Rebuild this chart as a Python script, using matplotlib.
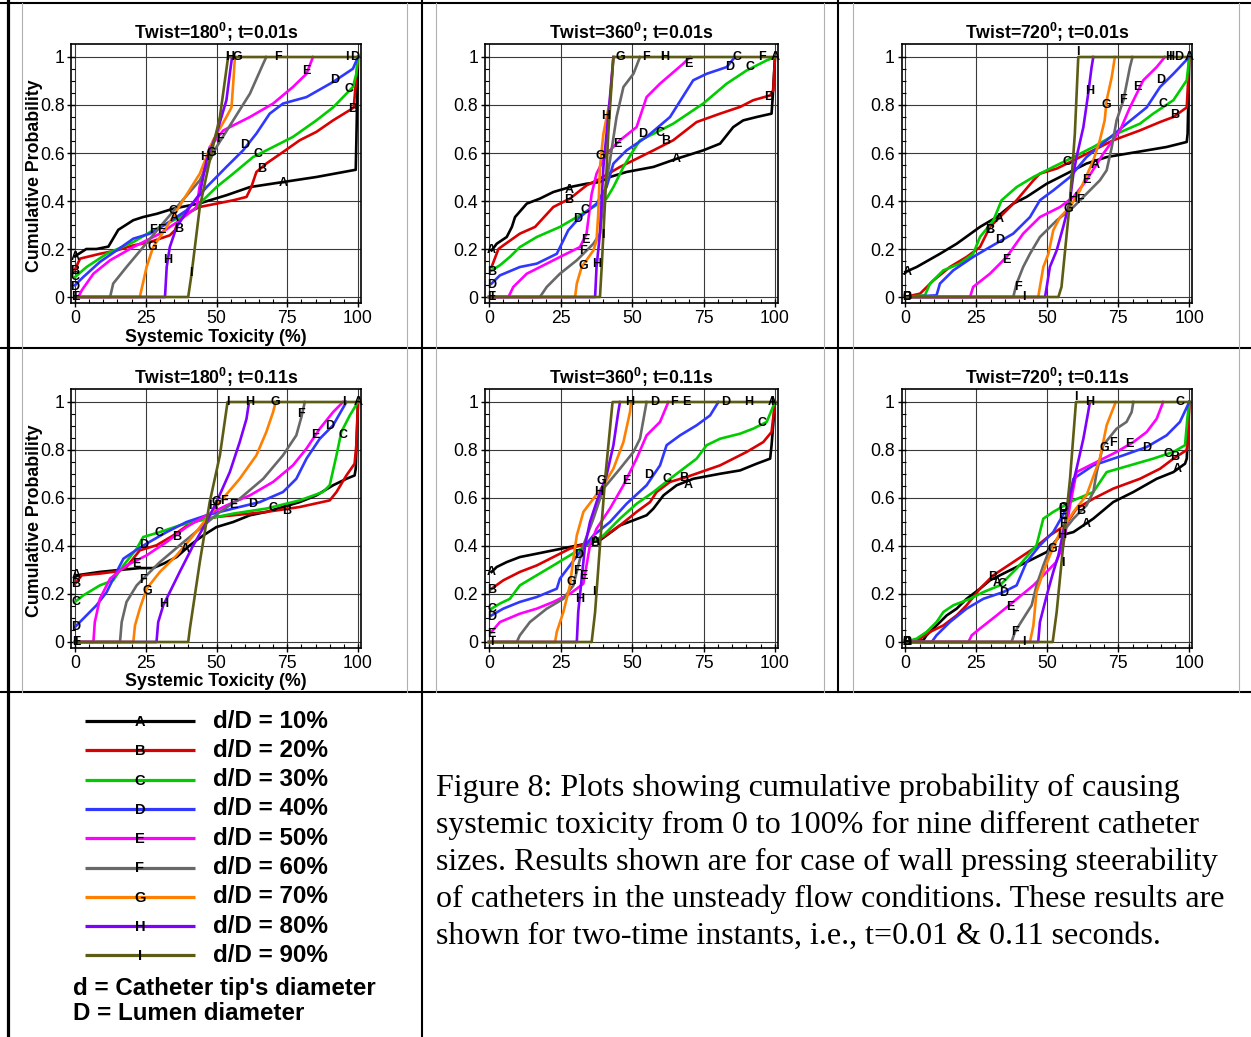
import numpy as np
import matplotlib
matplotlib.use("Agg")
import matplotlib.pyplot as plt

plt.rcParams['font.family'] = ['Liberation Sans', 'DejaVu Sans']
plt.rcParams['mathtext.fontset'] = 'custom'
plt.rcParams['mathtext.rm'] = 'Liberation Sans'
plt.rcParams['mathtext.bf'] = 'Liberation Sans:bold'

# ---- data (x = systemic toxicity %, y = cumulative probability) ----
letters = ['A', 'B', 'C', 'D', 'E', 'F', 'G', 'H', 'I']
colors = ['#000000', '#d80000', '#00cc00', '#3038ff', '#ff00ff',
          '#686868', '#ff8000', '#8000ff', '#5c5c14']
ratios = ['10%', '20%', '30%', '40%', '50%', '60%', '70%', '80%', '90%']

# Twist=180, t=0.01s
tw180_t001 = {
    'A': ([0, 4, 7.6, 11.8, 15.3, 20.6, 24, 29, 34.7, 44, 53.5, 61.8, 73.5, 85.3, 98.2, 99.2, 99.4, 100],
          [0.17, 0.20, 0.20, 0.21, 0.28, 0.32, 0.333, 0.347, 0.368, 0.39, 0.424, 0.458, 0.479, 0.5, 0.528, 0.53, 0.64, 1]),
    'B': ([0, 1, 1.8, 8.8, 14.7, 20.6, 26.5, 33.5, 35.3, 37, 44, 50, 55.9, 60.6, 62.3, 64.1, 67.6, 73.5, 79.4, 85.3, 91.2, 97, 98.5, 99.2, 100],
          [0.115, 0.14, 0.16, 0.18, 0.194, 0.215, 0.229, 0.257, 0.278, 0.333, 0.375, 0.389, 0.403, 0.417, 0.458, 0.521, 0.556, 0.604, 0.653, 0.688, 0.736, 0.778, 0.79, 0.889, 1]),
    'C': ([0, 4.1, 11.2, 20.6, 27.6, 34.7, 41.8, 44, 50, 55.9, 62.9, 70, 77, 85.3, 91.2, 95.9, 98.2, 99.4, 100],
          [0.083, 0.125, 0.18, 0.229, 0.278, 0.319, 0.361, 0.389, 0.458, 0.514, 0.583, 0.625, 0.667, 0.736, 0.79, 0.847, 0.875, 0.93, 1]),
    'D': ([0, 2.9, 8.8, 14.7, 20.6, 26.5, 32.4, 39.4, 46.5, 53.5, 59.4, 64.1, 68.8, 73.5, 81.8, 91.2, 98.2, 100],
          [0.049, 0.083, 0.146, 0.194, 0.243, 0.264, 0.306, 0.361, 0.458, 0.542, 0.611, 0.681, 0.764, 0.806, 0.833, 0.896, 0.951, 1]),
    'E': ([0, 1.2, 2.4, 6.5, 12.4, 20.6, 30, 37, 43, 44, 47.6, 52.4, 61.8, 70, 77, 81.8, 84.1],
          [0, 0, 0.028, 0.097, 0.153, 0.208, 0.264, 0.319, 0.375, 0.458, 0.625, 0.694, 0.75, 0.806, 0.875, 0.93, 1]),
    'F': ([0, 12.4, 13.5, 18.2, 24.1, 30, 37, 44.1, 50, 55.9, 61.8, 66.5, 67.6],
          [0, 0, 0.056, 0.125, 0.208, 0.292, 0.389, 0.486, 0.625, 0.736, 0.847, 0.972, 1]),
    'G': ([0, 22.9, 25.3, 27.6, 32.4, 38.2, 44.1, 48.8, 53.5, 55.3, 55.9, 56.5],
          [0, 0, 0.125, 0.208, 0.292, 0.403, 0.514, 0.653, 0.75, 0.79, 0.889, 1]),
    'H': ([0, 31.8, 32.4, 33.5, 35.9, 40.6, 44.1, 46.5, 50, 53.5, 54.7, 55.5],
          [0, 0, 0.125, 0.208, 0.292, 0.375, 0.43, 0.569, 0.68, 0.82, 0.93, 1]),
    'I': ([0, 40, 41.2, 44.1, 47.6, 51.2, 54.1, 100],
          [0, 0, 0.097, 0.375, 0.569, 0.75, 1, 1]),
}
tw180_t001_lab = {
    'A': [(0, 0.167), (73.5, 0.475), (35, 0.33)],
    'B': [(0, 0.11), (65.9, 0.535), (36.5, 0.285), (98, 0.785)],
    'C': [(0, 0.083), (64.7, 0.597), (96.8, 0.868), (34.7, 0.36)],
    'D': [(0, 0.042), (60, 0.632), (91.8, 0.903), (99, 1)],
    'E': [(0, 0), (81.8, 0.94), (30.6, 0.278)],
    'F': [(27.6, 0.278), (51.2, 0.66), (71.8, 1)],
    'G': [(27.4, 0.208), (48, 0.6), (57.5, 1)],
    'H': [(32.7, 0.153), (45.9, 0.583), (54.5, 1)],
    'I': [(0, 0), (40.8, 0.1), (53.8, 1), (96, 1)],
}

# Twist=360, t=0.01s
tw360_t001 = {
    'A': ([0.9, 2.7, 6.2, 8, 9.1, 13.2, 17.8, 22.5, 28.3, 34.1, 38.8, 42.3, 48.1, 57.5, 65.6, 74.9, 80.8, 85.4, 88.9, 93.6, 98.8, 99.2, 100],
          [0.194, 0.222, 0.25, 0.292, 0.333, 0.389, 0.41, 0.4375, 0.458, 0.472, 0.479, 0.5, 0.521, 0.542, 0.576, 0.611, 0.639, 0.708, 0.736, 0.75, 0.764, 0.833, 1]),
    'B': ([0.9, 3.3, 5, 10.8, 16.1, 22.5, 28.3, 34.1, 38.8, 45.8, 51.6, 57.5, 64.4, 72.6, 80.8, 87.8, 92.4, 98.3, 99.4, 100],
          [0.125, 0.2, 0.215, 0.264, 0.292, 0.375, 0.41, 0.465, 0.493, 0.542, 0.576, 0.611, 0.653, 0.729, 0.764, 0.792, 0.82, 0.84, 0.861, 1]),
    'C': ([0.9, 3.8, 7.3, 10.8, 16.7, 24.8, 30.7, 36.5, 41.1, 43.5, 47, 50.5, 52.8, 57.5, 64.4, 74.9, 83.1, 90.1, 97.1, 100],
          [0.111, 0.132, 0.167, 0.208, 0.25, 0.292, 0.333, 0.375, 0.41, 0.458, 0.542, 0.611, 0.653, 0.68, 0.722, 0.806, 0.889, 0.944, 0.986, 1]),
    'D': ([0.9, 3.8, 10.8, 16.7, 23.7, 26, 27.7, 31.8, 37.6, 41.1, 43.5, 48.1, 55.1, 63.3, 71.4, 76.1, 83.1, 86],
          [0.056, 0.09, 0.125, 0.139, 0.18, 0.236, 0.278, 0.333, 0.389, 0.458, 0.556, 0.611, 0.667, 0.75, 0.903, 0.93, 0.958, 1]),
    'E': ([0, 6.8, 8.5, 13.2, 20.2, 26, 31.8, 34.1, 35.9, 37.6, 41.1, 45.8, 51.6, 55.1, 59.8, 67.9, 69.7, 70.3],
          [0, 0, 0.042, 0.097, 0.139, 0.174, 0.208, 0.264, 0.43, 0.514, 0.597, 0.653, 0.708, 0.833, 0.889, 0.972, 0.993, 1]),
    'F': ([0, 17.8, 20.2, 24.8, 30.7, 36.5, 38.8, 40, 42.3, 44.6, 47, 50.5, 52.8],
          [0, 0, 0.042, 0.097, 0.153, 0.222, 0.264, 0.403, 0.569, 0.75, 0.875, 0.93, 1]),
    'G': ([0, 30.1, 30.7, 32.4, 36.5, 37.6, 38.2, 38.8, 40, 42.3, 43.5],
          [0, 0, 0.056, 0.125, 0.194, 0.236, 0.347, 0.542, 0.68, 0.82, 1]),
    'H': ([0, 37.1, 37.6, 38.8, 39.4, 40, 41.1, 42.3, 43.5],
          [0, 0, 0.125, 0.264, 0.403, 0.542, 0.68, 0.833, 1]),
    'I': ([0, 38.8, 39.4, 40.6, 41.7, 43.5, 100],
          [0, 0, 0.125, 0.403, 0.68, 1, 1]),
}
tw360_t001_lab = {
    'A': [(0.9, 0.194), (65.6, 0.576), (28.1, 0.444), (100, 1)],
    'B': [(0.9, 0.105), (28, 0.405), (61.8, 0.649), (97.7, 0.833)],
    'C': [(33.6, 0.361), (59.8, 0.683), (91.3, 0.958), (86.6, 1)],
    'D': [(0.9, 0.052), (30.9, 0.326), (53.7, 0.678), (84, 0.96)],
    'E': [(0.9, 0), (33.8, 0.236), (44.9, 0.639), (69.7, 0.972)],
    'F': [(33, 0.19), (55, 1), (95.3, 1)],
    'G': [(33, 0.129), (38.8, 0.587), (45.8, 1)],
    'H': [(37.6, 0.139), (40.8, 0.754), (61.5, 1)],
    'I': [(0.9, 0), (39.7, 0.257), (60.5, 1)],
}

# Twist=720, t=0.01s
tw720_t001 = {
    'A': ([0, 4, 12.2, 18.1, 26.3, 32.2, 38, 42.7, 49.8, 56.8, 63.8, 70.9, 77.9, 85, 92, 99.1, 99.4, 100],
          [0.104, 0.125, 0.18, 0.222, 0.292, 0.333, 0.389, 0.417, 0.472, 0.514, 0.556, 0.583, 0.597, 0.611, 0.625, 0.646, 0.68, 1]),
    'B': ([0, 5.2, 9.9, 15.7, 21.6, 26.3, 29.8, 33.3, 39.2, 45.1, 47.4, 53.3, 59.2, 66.2, 73.2, 82.6, 89.7, 94.4, 99.1, 99.6, 100],
          [0, 0.014, 0.069, 0.125, 0.167, 0.208, 0.292, 0.333, 0.403, 0.486, 0.514, 0.535, 0.569, 0.611, 0.653, 0.694, 0.729, 0.75, 0.79, 0.903, 1]),
    'C': ([0, 6.9, 8.7, 13.4, 19.2, 23.9, 26.3, 31, 33.9, 39.2, 45.1, 52.1, 59.2, 66.2, 74.4, 82.6, 87.3, 94.4, 99.1, 100],
          [0, 0.007, 0.056, 0.111, 0.139, 0.18, 0.25, 0.319, 0.403, 0.458, 0.5, 0.542, 0.583, 0.625, 0.68, 0.722, 0.764, 0.82, 0.903, 1]),
    'D': ([0, 11, 12.2, 16.9, 23.9, 29.8, 38, 43.9, 47.4, 52.1, 58, 63.8, 70.9, 77.9, 85, 89.7, 94.4, 100],
          [0, 0.007, 0.056, 0.111, 0.167, 0.208, 0.264, 0.333, 0.403, 0.444, 0.5, 0.583, 0.653, 0.722, 0.79, 0.875, 0.93, 1]),
    'E': ([0, 22.8, 23.9, 29.8, 35.7, 41.5, 47.4, 54.5, 59.2, 63.8, 69.7, 75.6, 79.1, 83.8, 88.5, 91.4],
          [0, 0, 0.042, 0.097, 0.167, 0.264, 0.333, 0.375, 0.417, 0.486, 0.597, 0.694, 0.79, 0.903, 0.958, 1]),
    'F': ([0, 38, 39.2, 41.5, 43.9, 47.4, 53.3, 59.2, 63.8, 68.5, 70.9, 72.7, 74.4, 76.8, 79.1, 80],
          [0, 0, 0.056, 0.125, 0.18, 0.25, 0.319, 0.375, 0.43, 0.486, 0.528, 0.625, 0.736, 0.82, 0.958, 1]),
    'G': ([0, 46.8, 47.4, 48.6, 50.4, 52.1, 54.5, 58, 61.5, 66.2, 68.5, 70.2, 70.9, 72.7, 73.8],
          [0, 0, 0.042, 0.125, 0.18, 0.278, 0.333, 0.375, 0.444, 0.569, 0.653, 0.736, 0.82, 0.917, 1]),
    'H': ([0, 49.2, 49.8, 50.9, 53.3, 55.6, 58, 59.2, 60.3, 62.7, 64.4, 65.6, 66.2],
          [0, 0, 0.042, 0.125, 0.194, 0.292, 0.403, 0.514, 0.583, 0.708, 0.847, 0.958, 1]),
    'I': ([0, 53.9, 55, 58, 59.7, 60.9, 100],
          [0, 0, 0.042, 0.403, 0.68, 1, 1]),
}
tw720_t001_lab = {
    'A': [(0.5, 0.104), (33.1, 0.326), (66.8, 0.549), (100, 1)],
    'B': [(0.5, 0), (29.8, 0.28), (95, 0.757)],
    'C': [(0.5, 0), (29.8, 0.28), (56.8, 0.5625), (90.8, 0.806)],
    'D': [(0.5, 0), (33.1, 0.239), (90, 0.906), (96.1, 1)],
    'E': [(35.7, 0.153), (63.8, 0.486), (81.8, 0.875)],
    'F': [(39.8, 0.042), (61.5, 0.403), (76.8, 0.82)],
    'G': [(57.4, 0.368), (70.9, 0.8)],
    'H': [(58.9, 0.414), (64.8, 0.858), (93.2, 1)],
    'I': [(41.9, 0), (60.9, 1.02), (93, 1)],
}

# Twist=180, t=0.11s
tw180_t011 = {
    'A': ([0, 1.8, 8.8, 14.7, 22.9, 27.6, 31.2, 35.9, 40.6, 45.3, 50, 55.9, 61.8, 67.6, 73.5, 79.4, 85.3, 91.2, 95.9, 98.8, 99.2, 100],
          [0.271, 0.28, 0.292, 0.299, 0.308, 0.308, 0.326, 0.354, 0.403, 0.444, 0.479, 0.5, 0.528, 0.542, 0.5625, 0.583, 0.611, 0.653, 0.68, 0.694, 0.722, 1]),
    'B': ([0, 2.4, 8.8, 14.7, 18.2, 22.9, 28.8, 34.7, 40.6, 44.1, 50, 55.9, 67.6, 79.4, 90, 92.4, 95.9, 98.8, 99.4, 100],
          [0.243, 0.278, 0.285, 0.294, 0.3125, 0.382, 0.403, 0.444, 0.493, 0.507, 0.521, 0.528, 0.542, 0.5625, 0.59, 0.625, 0.694, 0.743, 0.82, 1]),
    'C': ([0, 2.9, 8.8, 13.5, 17.1, 21.8, 24.1, 30, 37, 44.1, 50, 55.9, 67.6, 79.4, 87.6, 90, 92.4, 94.1, 97.1, 100],
          [0.167, 0.194, 0.236, 0.257, 0.319, 0.389, 0.4375, 0.458, 0.486, 0.507, 0.521, 0.535, 0.556, 0.59, 0.625, 0.653, 0.778, 0.875, 0.944, 1]),
    'D': ([0, 2.9, 7.6, 11.2, 14.7, 17.1, 20.6, 25.3, 32.4, 39.4, 46.5, 55.9, 65.3, 73.5, 78.2, 81.8, 86.5, 91.2, 95.9],
          [0.0625, 0.097, 0.153, 0.208, 0.292, 0.347, 0.375, 0.41, 0.458, 0.5, 0.528, 0.556, 0.583, 0.625, 0.68, 0.764, 0.847, 0.903, 1]),
    'E': ([0, 6.5, 7, 8.8, 12.4, 18.2, 25.3, 32.4, 39.4, 46.5, 53.5, 61.8, 70, 77, 81.8, 86.5, 91.2, 94.7],
          [0, 0, 0.083, 0.18, 0.264, 0.319, 0.361, 0.417, 0.479, 0.528, 0.569, 0.611, 0.667, 0.736, 0.806, 0.889, 0.958, 1]),
    'F': ([0, 15.9, 16.5, 18.2, 21.8, 25.3, 30, 37, 44.1, 51.2, 58.2, 66.5, 73.5, 78.2, 80, 81.2],
          [0, 0, 0.083, 0.167, 0.236, 0.278, 0.333, 0.403, 0.472, 0.542, 0.597, 0.68, 0.778, 0.861, 0.9375, 1]),
    'G': ([0, 20.6, 21.2, 22.9, 25.3, 30, 35.9, 41.8, 46.5, 51.2, 58.2, 64.1, 67.6, 70, 70.9],
          [0, 0, 0.069, 0.139, 0.222, 0.292, 0.361, 0.444, 0.514, 0.583, 0.68, 0.778, 0.875, 0.958, 1]),
    'H': ([0, 28.8, 29.4, 31.2, 33.5, 37, 41.8, 46.5, 50, 54.7, 58.2, 60.6, 61.5],
          [0, 0, 0.083, 0.153, 0.208, 0.292, 0.403, 0.5, 0.583, 0.708, 0.833, 0.93, 1]),
    'I': ([0, 40, 40.6, 44.1, 47.6, 51.2, 53.9, 100],
          [0, 0, 0.056, 0.333, 0.583, 0.778, 1, 1]),
}
tw180_t011_lab = {
    'A': [(0.4, 0.28), (38.8, 0.386), (100, 1)],
    'B': [(0.4, 0.24), (35.9, 0.4375), (74.7, 0.546)],
    'C': [(0.4, 0.167), (29.8, 0.454), (69.8, 0.558), (94.7, 0.864)],
    'D': [(0.4, 0.0625), (24.4, 0.406), (62.9, 0.576), (90, 0.9)],
    'E': [(0.4, 0), (21.5, 0.324), (55.9, 0.572), (85, 0.861)],
    'F': [(23.9, 0.257), (52.6, 0.586), (80, 0.949)],
    'G': [(25.6, 0.2125), (49.8, 0.585), (70.9, 1)],
    'H': [(31.5, 0.157), (48.6, 0.565), (61.8, 1)],
    'I': [(0.4, 0), (53.9, 1), (95, 1)],
}

# Twist=360, t=0.11s
tw360_t011 = {
    'A': ([0.9, 2.7, 6.2, 10.8, 16.7, 22.5, 28.3, 34.1, 38.8, 43.5, 45.8, 50.5, 55.1, 57.5, 61, 65.6, 71.4, 80.8, 87.8, 93.6, 98.3, 98.8, 100],
          [0.292, 0.3125, 0.333, 0.354, 0.368, 0.382, 0.396, 0.41, 0.424, 0.465, 0.486, 0.507, 0.528, 0.556, 0.611, 0.653, 0.68, 0.701, 0.715, 0.743, 0.764, 0.82, 1]),
    'B': ([0.9, 5, 10.8, 16.7, 22.5, 28.3, 34.1, 40, 45.8, 51.6, 56.3, 58.6, 63.3, 69.1, 80.8, 90.1, 95.9, 98.8, 100],
          [0.222, 0.257, 0.292, 0.319, 0.354, 0.389, 0.41, 0.4375, 0.486, 0.542, 0.583, 0.625, 0.667, 0.6875, 0.736, 0.792, 0.833, 0.875, 1]),
    'C': ([0.9, 3.8, 7.3, 10.8, 16.7, 22.5, 28.3, 34.1, 40, 45.8, 51.6, 57.5, 63.3, 72.6, 76.1, 80.8, 87.8, 92.4, 97.1, 100],
          [0.139, 0.16, 0.18, 0.236, 0.278, 0.319, 0.361, 0.403, 0.444, 0.514, 0.576, 0.625, 0.68, 0.764, 0.82, 0.847, 0.868, 0.889, 0.917, 1]),
    'D': ([0.9, 5, 10.8, 16.7, 23.7, 24.8, 28.3, 31.8, 36.5, 42.3, 48.1, 55.1, 59.8, 62.1, 66.8, 72.6, 77.3, 80.2],
          [0.111, 0.139, 0.167, 0.1875, 0.222, 0.264, 0.319, 0.375, 0.444, 0.5, 0.576, 0.653, 0.736, 0.82, 0.861, 0.903, 0.944, 1]),
    'E': ([0.9, 3.8, 10.8, 16.7, 22.5, 28.3, 33, 34.1, 35.3, 37.6, 42.3, 47, 51.6, 55.1, 59.8, 62.7],
          [0.042, 0.083, 0.118, 0.139, 0.167, 0.201, 0.243, 0.319, 0.403, 0.472, 0.556, 0.653, 0.764, 0.861, 0.917, 1]),
    'F': ([0, 9.7, 10.8, 14.3, 20.2, 26, 29.5, 33, 36.5, 40, 45.8, 50.5, 52.8, 55.1],
          [0, 0, 0.028, 0.083, 0.139, 0.18, 0.236, 0.403, 0.514, 0.639, 0.722, 0.792, 0.847, 1]),
    'G': ([0, 23.1, 23.7, 26, 28.3, 29.5, 30.7, 33, 36.5, 40, 43.5, 47, 49.3, 49.7],
          [0, 0, 0.042, 0.125, 0.236, 0.347, 0.444, 0.542, 0.597, 0.653, 0.722, 0.833, 0.958, 1]),
    'H': ([0, 30.7, 31.2, 32.4, 33.6, 35.3, 37.6, 41.1, 43.5, 45.2, 45.8],
          [0, 0, 0.125, 0.264, 0.403, 0.5, 0.583, 0.694, 0.82, 0.958, 1]),
    'I': ([0, 35.9, 37.1, 38.8, 40.6, 43.2, 100],
          [0, 0, 0.125, 0.403, 0.68, 1, 1]),
}
tw360_t011_lab = {
    'A': [(0.9, 0.29), (37, 0.417), (69.7, 0.656), (99, 1)],
    'B': [(0.9, 0.215), (36.8, 0.4125), (68, 0.683)],
    'C': [(0.9, 0.139), (62.4, 0.678), (95.6, 0.914)],
    'D': [(0.9, 0.104), (31.2, 0.361), (55.7, 0.694), (57.8, 1), (82.6, 1)],
    'E': [(0.9, 0.035), (33, 0.274), (48.1, 0.669), (69.1, 1)],
    'F': [(30.9, 0.296), (64.5, 1)],
    'G': [(28.9, 0.25), (39.4, 0.669)],
    'H': [(31.8, 0.178), (38.5, 0.625), (49.3, 1), (90.7, 1)],
    'I': [(0.9, 0), (36.8, 0.208), (99, 1)],
}

# Twist=720, t=0.11s
tw720_t011 = {
    'A': ([0, 6.3, 7.5, 11, 14.6, 18.1, 21.6, 26.3, 29.8, 35.7, 42.7, 49.8, 54.5, 59.2, 66.2, 73.2, 80.3, 88.5, 94.4, 98.5, 99.1, 100],
          [0, 0.007, 0.028, 0.069, 0.111, 0.139, 0.18, 0.222, 0.257, 0.292, 0.333, 0.375, 0.444, 0.458, 0.514, 0.583, 0.625, 0.68, 0.708, 0.743, 0.764, 1]),
    'B': ([0, 5.2, 8.7, 13.4, 18.1, 21.6, 26.3, 31, 38, 45.1, 50.9, 56.3, 60.3, 66.2, 73.2, 82.6, 89.7, 94.4, 99.1, 99.6, 100],
          [0, 0.014, 0.042, 0.069, 0.111, 0.153, 0.222, 0.278, 0.333, 0.389, 0.444, 0.486, 0.556, 0.597, 0.639, 0.68, 0.722, 0.764, 0.8, 0.847, 1]),
    'C': ([0, 4, 7.5, 11, 13.4, 16.9, 22.8, 27.5, 33.3, 39.2, 46.2, 48.6, 52.1, 59.2, 66.2, 70.9, 79.1, 87.3, 94.4, 98.5, 99.3, 100],
          [0, 0.014, 0.042, 0.083, 0.125, 0.153, 0.18, 0.208, 0.236, 0.306, 0.403, 0.514, 0.542, 0.59, 0.625, 0.708, 0.736, 0.764, 0.792, 0.82, 0.93, 1]),
    'D': ([0, 9.3, 11, 15.7, 21.6, 27.5, 34.5, 39.2, 42.7, 47.4, 52.1, 56.8, 59.2, 66.2, 76.8, 85, 92, 96.7, 100],
          [0, 0, 0.028, 0.083, 0.139, 0.18, 0.208, 0.236, 0.333, 0.403, 0.458, 0.556, 0.68, 0.736, 0.778, 0.8125, 0.861, 0.917, 1]),
    'E': ([0, 22.2, 23.4, 26.3, 32.2, 38, 45.1, 49.8, 53.1, 55.6, 58, 60.3, 65, 74.4, 80.3, 85, 88.5, 90.8],
          [0, 0, 0.028, 0.056, 0.111, 0.167, 0.236, 0.292, 0.333, 0.403, 0.569, 0.708, 0.736, 0.792, 0.833, 0.875, 0.93, 1]),
    'F': ([0, 37.4, 38.6, 41.5, 44.5, 46.2, 48.6, 50.9, 54.5, 59.2, 63.8, 66.2, 67.4, 69.7, 74.4, 77.9, 79.7, 80.3],
          [0, 0, 0.042, 0.097, 0.153, 0.236, 0.319, 0.389, 0.444, 0.514, 0.569, 0.625, 0.708, 0.82, 0.889, 0.917, 0.958, 1]),
    'G': ([0, 43.9, 45.1, 46.2, 48.6, 50.9, 54.5, 59.2, 63.8, 68.5, 70.9, 72.7, 74.1],
          [0, 0, 0.069, 0.208, 0.292, 0.361, 0.458, 0.542, 0.611, 0.764, 0.903, 0.958, 1]),
    'H': ([0, 46.8, 47.4, 49.8, 52.1, 53.9, 55.6, 58, 60.3, 62.7, 64.4, 65],
          [0, 0, 0.083, 0.194, 0.292, 0.361, 0.458, 0.611, 0.722, 0.847, 0.958, 1]),
    'I': ([0, 51.9, 53.3, 55.6, 58, 60.1, 100],
          [0, 0, 0.125, 0.403, 0.68, 1, 1]),
}
tw720_t011_lab = {
    'A': [(0.5, 0), (32.2, 0.247), (63.8, 0.493), (95.8, 0.719)],
    'B': [(0.5, 0), (30.8, 0.271), (61.7, 0.546), (94.7, 0.771)],
    'C': [(0.5, 0), (33.9, 0.243), (55.4, 0.558), (92.6, 0.785), (96.7, 1)],
    'D': [(0.5, 0), (34.7, 0.206), (55.4, 0.556), (85, 0.808)],
    'E': [(36.9, 0.146), (55.4, 0.528), (78.9, 0.826)],
    'F': [(38.6, 0.042), (55.4, 0.493), (73, 0.829)],
    'G': [(51.9, 0.389), (70, 0.808)],
    'H': [(55, 0.444), (65, 1)],
    'I': [(41.9, 0), (60.1, 1.02), (55.5, 0.33)],
}

titles = ['Twist=180$^{\\mathbf{0}}$; t=0.01s', 'Twist=360$^{\\mathbf{0}}$; t=0.01s',
          'Twist=720$^{\\mathbf{0}}$; t=0.01s', 'Twist=180$^{\\mathbf{0}}$; t=0.11s',
          'Twist=360$^{\\mathbf{0}}$; t=0.11s', 'Twist=720$^{\\mathbf{0}}$; t=0.11s']
panels = [(tw180_t001, tw180_t001_lab), (tw360_t001, tw360_t001_lab), (tw720_t001, tw720_t001_lab),
          (tw180_t011, tw180_t011_lab), (tw360_t011, tw360_t011_lab), (tw720_t011, tw720_t011_lab)]

caption = ["Figure 8: Plots showing cumulative probability of causing",
           "systemic toxicity from 0 to 100% for nine different catheter",
           "sizes. Results shown are for case of wall pressing steerability",
           "of catheters in the unsteady flow conditions. These results are",
           "shown for two-time instants, i.e., t=0.01 & 0.11 seconds."]

# ---- layout (pixels) ----
W, H = 1251, 1037
fig = plt.figure(figsize=(W / 100, H / 100), dpi=100)
bg = fig.add_axes([0, 0, 1, 1])
bg.set_xlim(0, W)
bg.set_ylim(H, 0)
bg.axis('off')

# table borders
for yy in [2.5, 347.5, 692]:
    bg.plot([0, W], [yy, yy], color='k', lw=1.5, solid_capstyle='butt')
bg.plot([7.5, 7.5], [0, H], color='k', lw=2.3)
bg.plot([421.5, 421.5], [0, H], color='k', lw=1.5)
bg.plot([837.5, 837.5], [0, 692], color='k', lw=1.5)
for xx in [22, 407, 436, 824, 853, 1239]:
    bg.plot([xx, xx], [3, 692], color='#b0b0b0', lw=0.8)

col_x = [(75, 358), (489, 775), (905.3, 1189.3)]
row_y = [(57, 297), (402, 642)]
xlim = (-1.3, 101)
ylim = (-0.025, 1.055)

for k, (curves, labs) in enumerate(panels):
    r, c = divmod(k, 3)
    x0, x100 = col_x[c]
    y1, y0 = row_y[r]
    sx = (x100 - x0) / 100.0
    sy = (y0 - y1)
    left = x0 + xlim[0] * sx
    right = x0 + xlim[1] * sx
    top = y0 - ylim[1] * sy
    bottom = y0 - ylim[0] * sy
    ax = fig.add_axes([left / W, 1 - bottom / H, (right - left) / W, (bottom - top) / H])
    ax.set_xlim(*xlim)
    ax.set_ylim(*ylim)
    ax.set_xticks([0, 25, 50, 75, 100])
    ax.set_xticklabels(['0', '25', '50', '75', '100'])
    ax.set_yticks([0, 0.2, 0.4, 0.6, 0.8, 1])
    ax.set_yticklabels(['0', '0.2', '0.4', '0.6', '0.8', '1'])
    ax.set_xticks(np.arange(0, 101, 5), minor=True)
    ax.set_yticks(np.arange(0, 1.001, 0.05), minor=True)
    ax.tick_params(which='major', direction='inout', length=6, width=1, labelsize=12.7, pad=2)
    ax.tick_params(which='minor', direction='in', length=3, width=0.8)
    ax.grid(True, which='major', color='#3a3a3a', lw=0.8)
    for sp in ax.spines.values():
        sp.set_linewidth(1.2)
    for name, col in zip(letters, colors):
        xs, ys = curves[name]
        ax.plot(xs, ys, color=col, lw=1.9, zorder=3, clip_on=False)
    for name in letters:
        for (lx, ly) in labs.get(name, []):
            ax.text(lx, ly, name, fontsize=9, fontweight='bold', color='k',
                    ha='center', va='center', zorder=5, clip_on=False)
    cx = (left + right) / 2
    bg.text(cx, 39 + 345 * r, titles[k], fontsize=12.7, fontweight='bold',
            ha='center', va='baseline')
    if c == 0:
        bg.text(35, 176 + 345 * r, 'Cumulative Probability', fontsize=12.8, fontweight='bold',
                rotation=90, ha='center', va='center')
        bg.text(216, 337 + 345 * r, 'Systemic Toxicity (%)', fontsize=12.8, fontweight='bold',
                ha='center', va='center')

# legend block
for i, (name, col, rt) in enumerate(zip(letters, colors, ratios)):
    yy = 721 + 29.3 * i
    bg.plot([85, 195], [yy, yy], color=col, lw=2.3, solid_capstyle='butt')
    bg.text(140, yy + 1, name, fontsize=10.5, fontweight='bold', ha='center', va='center', color='k')
    bg.text(213, yy, 'd/D = ' + rt, fontsize=17.4, fontweight='bold', ha='left', va='center')
bg.text(73, 988, "d = Catheter tip's diameter", fontsize=17.4, fontweight='bold', ha='left', va='center')
bg.text(73, 1013, 'D = Lumen diameter', fontsize=17.4, fontweight='bold', ha='left', va='center')

# caption
for i, line in enumerate(caption):
    bg.text(436, 796 + 37 * i, line, fontsize=23, family='Liberation Serif',
            ha='left', va='baseline')

fig.savefig('out.png', dpi=100)
